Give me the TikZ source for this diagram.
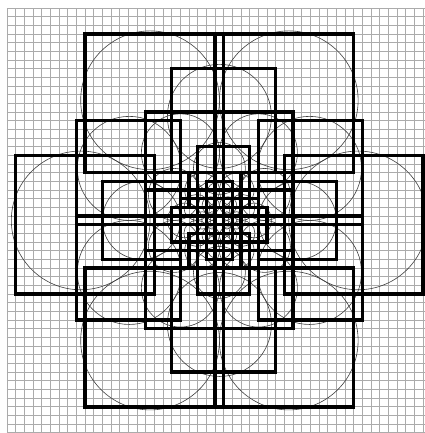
\documentclass[tikz,border=0pt]{standalone}
\usepackage{tikz}
\definecolor{Grid}{HTML}{ABABAB}
\definecolor{Ring}{HTML}{404040}

\begin{document}
\begin{tikzpicture}[x=0.25cm,y=-0.25cm,
  gridline/.style={Grid,line width=0.55pt},
  ring/.style={Ring,line width=0.5pt},
  box/.style={black,line width=2.8pt}]
  \useasboundingbox (-0.807,-0.923) rectangle (48.21,49.02);
  \fill[white] (-0.807,-0.923) rectangle (48.21,49.02);
  % background grid
  \foreach \i in {0,...,48} \draw[gridline] (\i,0) -- (\i,49.02);
  \foreach \j in {0,...,49} \draw[gridline] (0,\j) -- (48.21,\j);
  % six circles per ring, each ring turned a quarter
  \foreach \s/\o in {16/0,12/90,9/0,6/90,4/0,3/90,2/0,1/90}
    \foreach \a in {0,60,...,300}
      \draw[ring] ({24.5+\s*cos(\a+\o)},{24.5+\s*sin(\a+\o)}) circle[radius=\s/2];
  % squares, snapped to the grid
  \foreach \x/\y/\s in {1/17/16,32/17/16,9/3/16,24/3/16,9/30/16,24/30/16,
      19/7/12,19/30/12,8/13/12,8/24/12,29/13/12,29/24/12,
      11/20/9,29/20/9,16/12/9,24/12/9,16/28/9,24/28/9,
      22/16/6,22/27/6,16/19/6,16/24/6,27/19/6,27/24/6,
      19/23/4,26/23/4,21/19/4,24/19/4,21/26/4,24/26/4,
      23/20/3,23/26/3,20/22/3,20/24/3,26/22/3,26/24/3,
      22/24/2,25/24/2,23/22/2,24/22/2,23/25/2,24/25/2,
      24/23/1,24/25/1,23/24/1,25/24/1}
    \draw[box] (\x,\y) rectangle ++(\s,\s);
\end{tikzpicture}
\end{document}
